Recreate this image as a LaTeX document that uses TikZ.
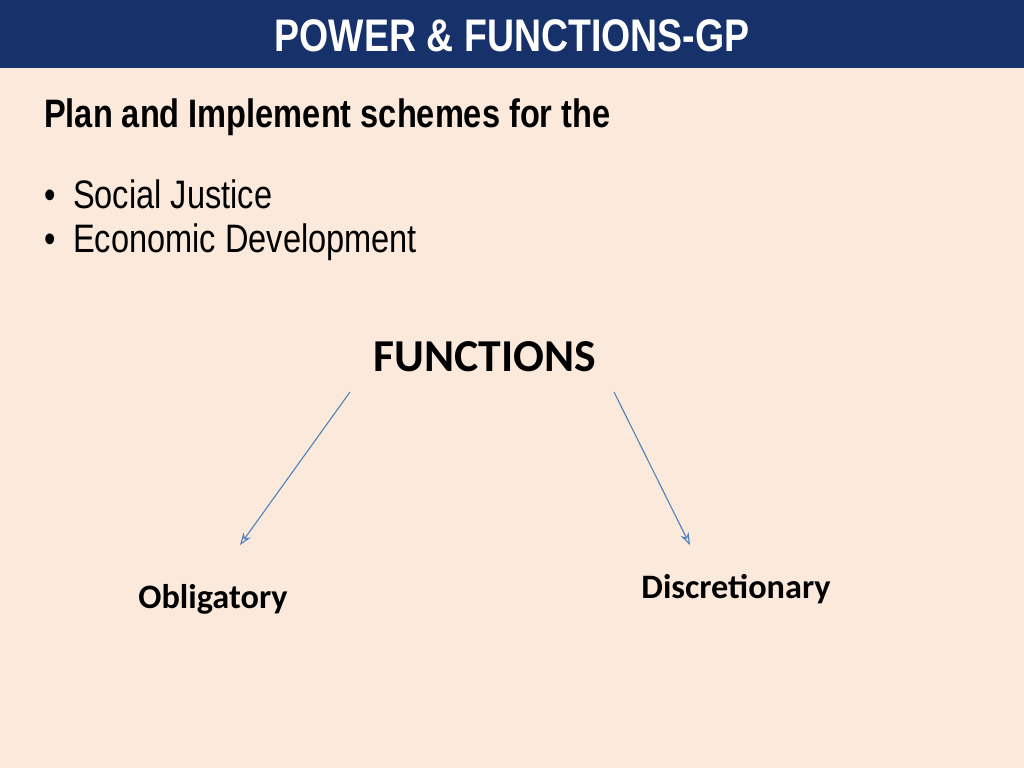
\documentclass[tikz,border=0pt]{standalone}
\usepackage{fontspec}
\setmainfont{Liberation Sans}
\newfontfamily\narrowfont[FakeStretch=0.82]{Liberation Sans}
\newfontfamily\calfont{Carlito}
\usetikzlibrary{arrows.meta}
\definecolor{bandblue}{HTML}{17316B}
\definecolor{paper}{HTML}{FBE9DB}
\definecolor{linkblue}{HTML}{4A7EBB}
\tikzset{
  head/.style={text=white, font=\narrowfont\bfseries\fontsize{26}{30}\selectfont},
  lead/.style={anchor=west, font=\narrowfont\bfseries\fontsize{22.6}{26}\selectfont},
  item/.style={anchor=west, font=\narrowfont\fontsize{22.6}{26}\selectfont},
  kind/.style={font=\calfont\bfseries\fontsize{19.5}{23}\selectfont},
  link/.style={draw=linkblue, -{Stealth[length=7pt,width=5pt,open]}, line width=0.6pt}
}
\begin{document}
\begin{tikzpicture}[x=0.02cm, y=-0.02cm]
  \fill[paper] (0,0) rectangle (1024,768);
  \fill[bandblue] (0,0) rectangle (1024,68);
  \useasboundingbox (0,0) rectangle (1024,768);

  \node[head] (title) at (512,36) {POWER \& FUNCTIONS-GP};
  \node[lead] (plan) at (38,117) {Plan and Implement schemes for the};
  \node[item] (social) at (38,194) {\textbullet\hspace{10pt}Social Justice};
  \node[item] (econ) at (38,242) {\textbullet\hspace{10pt}Economic Development};

  \node[font=\calfont\bfseries\fontsize{26}{30}\selectfont] (func) at (485,357) {FUNCTIONS};
  \node[kind] (oblig) at (213,599) {Obligatory};
  \node[kind] (disc) at (736,589) {Discretionary};

  \coordinate (oblEnd) at (240,545);
  \coordinate (discEnd) at (690,545);
  \draw[link] (350,392) -- (oblEnd);
  \draw[link] (614,392) -- (discEnd);
\end{tikzpicture}
\end{document}
